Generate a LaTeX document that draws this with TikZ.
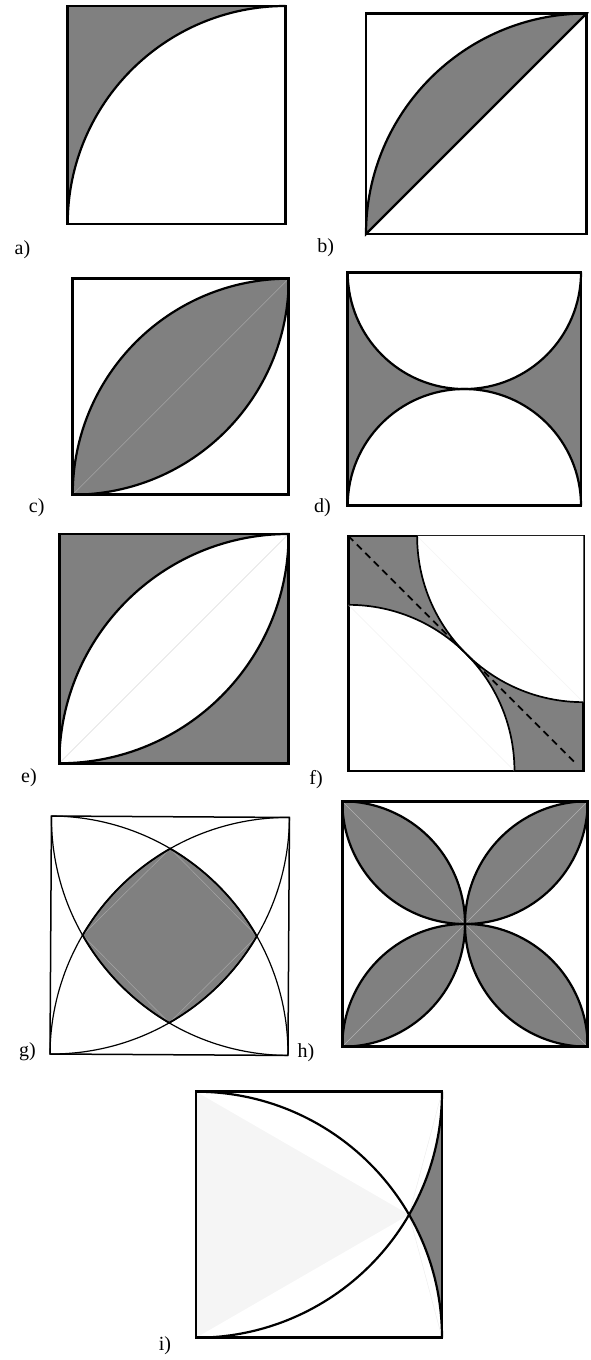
\documentclass[tikz,border=0pt]{standalone}
\usepackage{fontspec}
\setmainfont{Liberation Serif}

\begin{document}
\begin{tikzpicture}[x=1pt,y=1pt,
  border/.style={line width=2.6pt},
  curve/.style={line width=2.2pt},
  thin/.style={line width=1.2pt},
  faint/.style={line width=0.5pt,#1},
  faint/.default=gray!60,
  lbl/.style={font=\fontsize{20}{24}\selectfont,inner sep=0pt}]

\useasboundingbox (0,0) rectangle (590,1360);

% a
\begin{scope}[shift={(67.7,1136)},scale=218]
\fill[gray] (0,0) rectangle (1,1);
\fill[white] (0,0) arc (180:90:1) -- (1,0) -- cycle;
\draw[curve] (0,0) arc (180:90:1);
\draw[border] (0,0) rectangle (1,1);
\end{scope}

% b
\begin{scope}[shift={(366,1126)},scale=220.5]
\fill[gray] (0,0) arc (180:90:1) -- cycle;
\draw[curve] (0,0) arc (180:90:1) -- cycle;
\draw[border] (0,0) rectangle (1,1);
\end{scope}

% c
\begin{scope}[shift={(72.7,865.3)},scale=216]
\fill[gray] (0,0) arc (180:90:1) arc (0:-90:1) -- cycle;
\draw[faint] (0,0) -- (1,1);
\draw[curve] (0,0) arc (180:90:1) arc (0:-90:1);
\draw[border] (0,0) rectangle (1,1);
\end{scope}

% d
\begin{scope}[shift={(347.7,854.3)},scale=233.3]
\fill[gray] (0,0) rectangle (1,1);
\fill[white] (0,1) arc (180:360:0.5) -- cycle;
\fill[white] (0,0) arc (180:0:0.5) -- cycle;
\draw[curve] (0,1) arc (180:360:0.5);
\draw[curve] (0,0) arc (180:0:0.5);
\draw[border] (0,0) rectangle (1,1);
\end{scope}

% e
\begin{scope}[shift={(59.3,596.7)},scale=229.3]
\fill[gray] (0,0) rectangle (1,1);
\fill[white] (0,0) arc (180:90:1) arc (0:-90:1) -- cycle;
\draw[faint=black!15] (0,0) -- (1,1);
\draw[curve] (0,0) arc (180:90:1) arc (0:-90:1);
\draw[border] (0,0) rectangle (1,1);
\end{scope}

% f
\begin{scope}[shift={(348.3,589)},scale=235]
\fill[gray] (0,0) rectangle (1,1);
\fill[white] (0,0) -- (0.7071,0) arc (0:90:0.7071) -- cycle;
\draw[border] (0,0) rectangle (1,1);
\fill[white] (1,1) -- (0.2929,1) arc (180:270:0.7071) -- cycle;
\draw[faint=black!5] (0.7071,0) -- (0,0.7071);
\draw[faint=black!5] (0.2929,1) -- (1,0.2929);
\draw[curve,line width=1.7pt] (0.7071,0) arc (0:90:0.7071);
\draw[curve,line width=1.7pt] (0.2929,1) arc (180:270:0.7071);
\draw[curve,line width=1.7pt,dash pattern=on 7pt off 5pt] (0,1) -- (0.97,0.03);
\end{scope}

% g
\begin{scope}[shift={(50,306)},rotate=-0.35,scale=238]
\fill[gray] ({1-sqrt(3)/2},0.5) arc (150:120:1) arc (60:30:1)
  arc (-30:-60:1) arc (240:210:1) -- cycle;
\draw[faint=gray!70] ({1-sqrt(3)/2},0.5) -- (0.5,{sqrt(3)/2})
  -- ({sqrt(3)/2},0.5) -- (0.5,{1-sqrt(3)/2}) -- cycle;
\draw[thin] (0,1) arc (90:0:1);
\draw[thin] (1,1) arc (90:180:1);
\draw[thin] (0,0) arc (-90:0:1);
\draw[thin] (0,1) arc (180:270:1);
\draw[line width=1.8pt] ({1-sqrt(3)/2},0.5) arc (150:120:1) arc (60:30:1)
  arc (-30:-60:1) arc (240:210:1) -- cycle;
\draw[line width=1.5pt] (0,0) rectangle (1,1);
\end{scope}

% h
\begin{scope}[shift={(342.3,313.3)},scale=245.4]
\foreach \a in {0,90,180,270}
  \fill[gray,rotate around={\a:(0.5,0.5)}] (0,1) arc (90:0:0.5) arc (270:180:0.5) -- cycle;
\draw[faint] (0,0) -- (1,1);
\draw[faint] (0,1) -- (1,0);
\foreach \a in {0,90,180,270}
  \draw[curve,rotate around={\a:(0.5,0.5)}] (0,1) arc (90:0:0.5) arc (270:180:0.5) -- cycle;
\draw[border] (0,0) rectangle (1,1);
\end{scope}

% i
\begin{scope}[shift={(196,22.3)},scale=246]
\fill[black!4] (0,0) -- (0,1) -- ({sqrt(3)/2},0.5) -- cycle;
\fill[gray] ({sqrt(3)/2},0.5) arc (30:0:1) -- (1,1) arc (0:-30:1) -- cycle;
\draw[faint=black!7] (1,1) -- ({sqrt(3)/2},0.5) -- (1,0);
\draw[curve] (0,1) arc (90:0:1);
\draw[curve] (0,0) arc (-90:0:1);
\draw[border] (0,0) rectangle (1,1);
\end{scope}

\node[lbl] (la) at (22.5,1110) {a)};
\node[lbl] (lb) at (325.8,1112) {b)};
\node[lbl] (lc) at (36.7,852) {c)};
\node[lbl] (ld) at (322.5,852.5) {d)};
\node[lbl] (le) at (29,582) {e)};
\node[lbl] (lf) at (316,580) {f)};
\node[lbl] (lg) at (27.5,308) {g)};
\node[lbl] (lh) at (306,307) {h)};
\node[lbl] (li) at (165,14) {i)};

\end{tikzpicture}
\end{document}
